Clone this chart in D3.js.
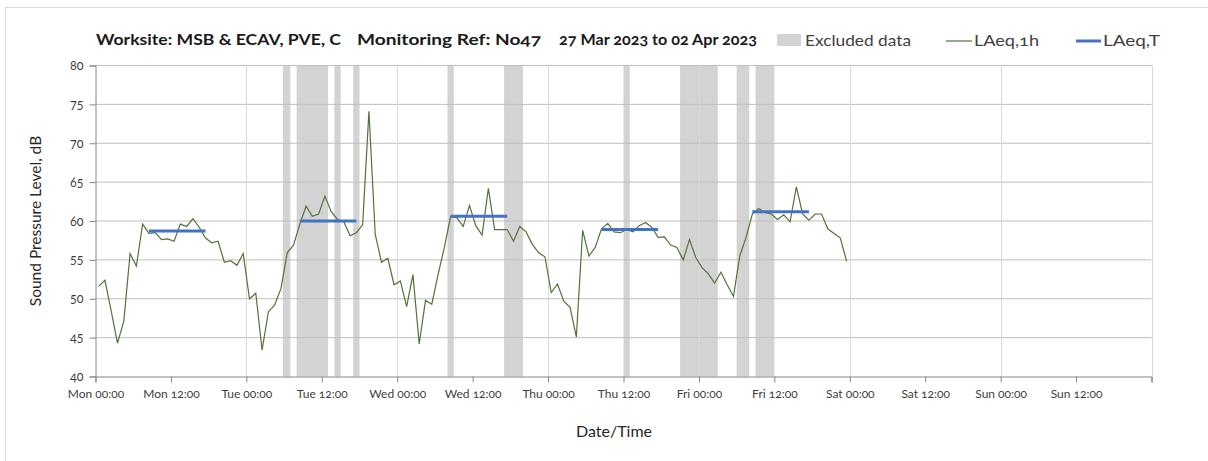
<!DOCTYPE html>
<meta charset="utf-8">
<head>
    <title>Noise monitoring</title>
    <script src="https://cdn.jsdelivr.net/npm/d3@7"></script>
</head>

<style>
    body { margin: 0; background: #fff; }
    text { font-family: Lato, "Open Sans", sans-serif; font-variant-numeric: oldstyle-nums; }
    .grid-h { stroke: #bfbfbf; stroke-width: 1px; }
    .grid-v { stroke: #d9d9d9; stroke-width: 1px; }
    .excl { fill: #d3d3d3; }
    .hourly { fill: none; stroke: #53733a; stroke-width: 1.2px; }
    .period { stroke: #4472c4; stroke-width: 3px; }
</style>
<svg></svg>

<script>
    var vWidth = 1208;
    var vHeight = 461;

    var vStart = new Date(Date.UTC(2023, 2, 27, 0, 0));
    var vEnd = new Date(Date.UTC(2023, 3, 3, 0, 0));

    // LAeq,1h readings, one per hour, first one at Mon 00:30
    var vLevels = [
        51.6, 52.4, 48.4, 44.3, 47.1, 55.8, 54.2, 59.6, 58.4, 58.5, 57.6, 57.7,
        57.4, 59.6, 59.3, 60.3, 59.2, 57.8, 57.2, 57.4, 54.7, 54.9, 54.3, 55.8,
        50.0, 50.7, 43.4, 48.3, 49.2, 51.3, 55.9, 56.9, 59.6, 61.9, 60.6, 60.9,
        63.2, 61.2, 60.2, 59.9, 58.1, 58.5, 59.5, 74.1, 58.3, 54.7, 55.2, 51.8,
        52.3, 49.0, 53.1, 44.2, 49.8, 49.3, 53.1, 56.6, 60.6, 60.4, 59.3, 62.0,
        59.4, 58.2, 64.2, 58.9, 58.9, 58.9, 57.4, 59.3, 58.6, 57.0, 55.9, 55.4,
        50.8, 51.9, 49.7, 48.9, 45.1, 58.8, 55.5, 56.6, 59.0, 59.7, 58.6, 58.5,
        58.9, 58.6, 59.4, 59.8, 59.2, 57.9, 57.95, 56.9, 56.6, 55.0, 57.6, 55.3,
        54.0, 53.2, 52.0, 53.4, 51.8, 50.3, 55.5, 57.9, 60.9, 61.6, 61.1, 60.9,
        60.2, 60.8, 59.9, 64.4, 60.9, 60.1, 60.9, 60.9, 59.0, 58.4, 57.8, 54.8
    ];

    // excluded periods, hours after Mon 00:00
    var vExclFrom = [29.8, 32, 38, 41, 56, 65, 84, 93, 102, 105];
    var vExclTo = [31, 37, 39, 42, 57, 68, 85, 99, 104, 108];

    // LAeq,T daytime periods
    var vPeriodFrom = [8.5, 32.5, 56.5, 80.5, 104.5];
    var vPeriodTo = [17.5, 41.5, 65.5, 89.5, 113.5];
    var vPeriodLevel = [58.7, 60.0, 60.6, 58.9, 61.2];

    var vYTicks = [40, 45, 50, 55, 60, 65, 70, 75, 80];

    function hrs(h) { return new Date(vStart.getTime() + h * 3600000); }

    var svg = d3.select('svg').attr('width', vWidth).attr('height', vHeight);

    // outer frame
    svg.append('rect').attr('x', 5.5).attr('y', 7.5).attr('width', 1300).attr('height', 600)
        .attr('fill', 'none').attr('stroke', '#d9d9d9');

    var x = d3.scaleUtc().domain([vStart, vEnd]).range([95.5, 1151.5]);
    var y = d3.scaleLinear().domain([40, 80]).range([376.5, 65.5]);

    var g = svg.append('g');

    // excluded bands
    g.selectAll('rect.excl').data(vExclFrom).enter().append('rect')
        .attr('class', 'excl')
        .attr('x', function (d) { return x(hrs(d)); })
        .attr('width', function (d, i) { return x(hrs(vExclTo[i])) - x(hrs(d)); })
        .attr('y', y(80))
        .attr('height', y(40) - y(80));

    // grid
    g.selectAll('line.grid-h').data(vYTicks.slice(1)).enter().append('line')
        .attr('class', 'grid-h')
        .attr('x1', x(vStart)).attr('x2', x(vEnd))
        .attr('y1', function (d) { return y(d); }).attr('y2', function (d) { return y(d); });

    var vDays = d3.utcDay.range(d3.utcDay.offset(vStart, 1), d3.utcDay.offset(vEnd, 1));
    g.selectAll('line.grid-v').data(vDays).enter().append('line')
        .attr('class', 'grid-v')
        .attr('x1', function (d) { return Math.round(x(d)) + 0.5; })
        .attr('x2', function (d) { return Math.round(x(d)) + 0.5; })
        .attr('y1', y(80)).attr('y2', y(40));

    // axes
    var xTicks = d3.utcHour.every(12).range(vStart, d3.utcHour.offset(vEnd, 1));
    var fmt = d3.utcFormat('%a %H:%M');
    var xAxis = d3.axisBottom(x).tickValues(xTicks).tickSizeOuter(0).tickSize(6).tickPadding(7)
        .tickFormat(function (d, i) { return i < xTicks.length - 1 ? fmt(d) : ''; });
    var gx = g.append('g').attr('transform', 'translate(0,' + y(40) + ')').call(xAxis);
    gx.selectAll('path, line').attr('stroke', '#868686');
    gx.selectAll('text').attr('fill', '#404040').style('font-size', '12px');

    var yAxis = d3.axisLeft(y).tickValues(vYTicks).tickSizeOuter(0).tickSize(6).tickPadding(6);
    var gy = g.append('g').attr('transform', 'translate(' + x(vStart) + ',0)').call(yAxis);
    gy.selectAll('path, line').attr('stroke', '#868686');
    gy.selectAll('text').attr('fill', '#404040').style('font-size', '12.5px');

    // hourly line
    var line = d3.line()
        .x(function (d, i) { return x(hrs(i + 0.5)); })
        .y(function (d) { return y(d); });
    g.append('path').datum(vLevels).attr('class', 'hourly').attr('d', line);

    // LAeq,T lines
    g.selectAll('line.period').data(vPeriodLevel).enter().append('line')
        .attr('class', 'period')
        .attr('x1', function (d, i) { return x(hrs(vPeriodFrom[i])); })
        .attr('x2', function (d, i) { return x(hrs(vPeriodTo[i])); })
        .attr('y1', function (d) { return y(d); })
        .attr('y2', function (d) { return y(d); });

    // title
    var vTitle = ['Worksite: MSB & ECAV, PVE, C', 'Monitoring Ref: No47', '27 Mar 2023 to 02 Apr 2023'];
    var vTitleX = [96, 357, 559];
    var vTitleW = [245, 184, 198];
    svg.selectAll('text.title').data(vTitle).enter().append('text')
        .attr('class', 'title')
        .attr('x', function (d, i) { return vTitleX[i]; })
        .attr('y', 45)
        .attr('textLength', function (d, i) { return vTitleW[i]; })
        .attr('lengthAdjust', 'spacingAndGlyphs')
        .style('font-size', '16px').style('font-weight', 'bold').attr('fill', '#1a1a1a')
        .text(function (d) { return d; });

    // legend
    var lg = svg.append('g');
    lg.append('rect').attr('x', 777).attr('y', 34).attr('width', 24).attr('height', 12).attr('class', 'excl');
    lg.append('text').attr('x', 805).attr('y', 46).attr('textLength', 106).attr('lengthAdjust', 'spacingAndGlyphs')
        .style('font-size', '16px').attr('fill', '#404040').text('Excluded data');
    lg.append('line').attr('x1', 946).attr('x2', 972).attr('y1', 41).attr('y2', 41).attr('class', 'hourly');
    lg.append('text').attr('x', 974).attr('y', 46).attr('textLength', 65).attr('lengthAdjust', 'spacingAndGlyphs')
        .style('font-size', '16px').attr('fill', '#404040').text('LAeq,1h');
    lg.append('line').attr('x1', 1076).attr('x2', 1101).attr('y1', 41).attr('y2', 41).attr('class', 'period');
    lg.append('text').attr('x', 1103).attr('y', 46).attr('textLength', 57).attr('lengthAdjust', 'spacingAndGlyphs')
        .style('font-size', '16px').attr('fill', '#404040').text('LAeq,T');

    // axis titles
    svg.append('text').attr('transform', 'translate(41,' + ((y(40) + y(80)) / 2) + ') rotate(-90)')
        .attr('text-anchor', 'middle').style('font-size', '15.5px').attr('fill', '#262626')
        .text('Sound Pressure Level, dB');
    svg.append('text').attr('x', 614).attr('y', 437).attr('text-anchor', 'middle')
        .style('font-size', '16px').attr('fill', '#262626').text('Date/Time');
</script>
